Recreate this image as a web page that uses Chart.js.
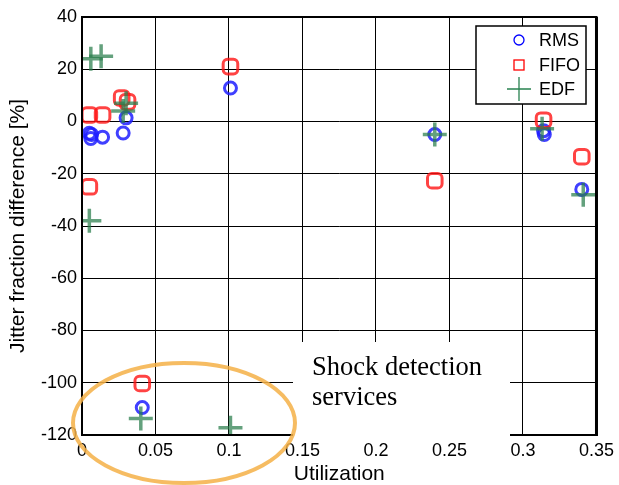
<!DOCTYPE html>
<html>
<head>
<meta charset="utf-8">
<script src="https://cdn.jsdelivr.net/npm/chart.js@4.4.1/dist/chart.umd.min.js"></script>
<style>
  html, body { margin: 0; padding: 0; background: #fff; }
  #wrap { width: 619px; height: 485px; position: relative; }
</style>
</head>
<body>
<div id="wrap"><canvas id="chartJitter"></canvas></div>
<script>
// values
const rmsX = [0.005, 0.006, 0.0065, 0.014, 0.028, 0.030, 0.101, 0.240, 0.314, 0.3145, 0.340, 0.041];
const rmsY = [-4.5, -6.5, -5, -6, -4.4, 1.4, 12.8, -5, -3.5, -5, -26, -109.5];

const fifoX = [0.005, 0.014, 0.027, 0.031, 0.101, 0.005, 0.240, 0.314, 0.340, 0.041];
const fifoY = [2.5, 2.5, 9, 7.5, 21, -25, -22.7, 0.5, -13.5, -100.3];

const edfX = [0.006, 0.013, 0.030, 0.028, 0.005, 0.240, 0.313, 0.341, 0.040, 0.101];
const edfY = [24, 25, 7, 4, -38, -5, -2.8, -28, -113.7, -117.2];

const xTickLabels = ['0', '0.05', '0.1', '0.15', '0.2', '0.25', '0.3', '0.35'];
const yTickLabels = ['-120', '-100', '-80', '-60', '-40', '-20', '0', '20', '40'];
const seriesNames = ['RMS', 'FIFO', 'EDF'];

const toPoints = (xs, ys) => xs.map((x, i) => ({ x: x, y: ys[i] }));

const blue = 'rgba(30,30,255,0.85)';
const red = 'rgba(255,20,20,0.8)';
const green = 'rgba(40,125,75,0.72)';

// frame, annotation box, ellipse and legend drawn on top of the plot
const overlay = {
  id: 'overlay',
  afterDraw(chart) {
    const ctx = chart.ctx;
    const a = chart.chartArea;
    ctx.save();
    ctx.strokeStyle = '#000';
    ctx.lineWidth = 2;
    ctx.strokeRect(a.left, a.top, a.right - a.left, a.bottom - a.top);
    ctx.lineWidth = 3;
    ctx.beginPath();
    ctx.moveTo(a.right, a.top);
    ctx.lineTo(a.right, a.bottom + 1);
    ctx.stroke();

    // white note box
    ctx.fillStyle = '#fff';
    ctx.fillRect(293, 342, 217, 98);
    ctx.fillStyle = '#000';
    ctx.font = '26.5px "Liberation Serif", "Times New Roman", serif';
    ctx.textBaseline = 'alphabetic';
    ctx.textAlign = 'left';
    ctx.fillText('Shock detection', 312, 375);
    ctx.fillText('services', 312, 405);

    // orange ellipse
    ctx.strokeStyle = 'rgba(244,176,70,0.85)';
    ctx.lineWidth = 4;
    ctx.beginPath();
    ctx.ellipse(184, 423, 111, 60, 0, 0, Math.PI * 2);
    ctx.stroke();

    // legend
    ctx.fillStyle = '#fff';
    ctx.fillRect(476, 26, 110, 78);
    ctx.strokeStyle = '#000';
    ctx.lineWidth = 1.5;
    ctx.strokeRect(476, 26, 110, 78);
    const rows = [40, 65, 89];
    ctx.font = '18px "Liberation Sans", Arial, sans-serif';
    ctx.textBaseline = 'middle';
    ctx.lineWidth = 1.3;
    // RMS
    ctx.strokeStyle = 'rgb(0,0,255)';
    ctx.beginPath();
    ctx.arc(519, rows[0], 5, 0, Math.PI * 2);
    ctx.stroke();
    // FIFO
    ctx.strokeStyle = 'rgb(255,0,0)';
    ctx.strokeRect(514, rows[1] - 5, 10, 10);
    // EDF
    ctx.strokeStyle = 'rgb(40,130,80)';
    ctx.beginPath();
    ctx.moveTo(507, rows[2]); ctx.lineTo(531, rows[2]);
    ctx.moveTo(519, rows[2] - 12); ctx.lineTo(519, rows[2] + 12);
    ctx.stroke();
    ctx.fillStyle = '#000';
    seriesNames.forEach((n, i) => ctx.fillText(n, 539, rows[i] + 1));
    ctx.restore();
  }
};

const chartJitter = new Chart(document.getElementById('chartJitter'), {
  type: 'scatter',
  data: {
    datasets: [
      {
        label: seriesNames[0],
        data: toPoints(rmsX, rmsY),
        pointStyle: 'circle',
        pointRadius: 6,
        borderWidth: 3,
        borderColor: blue,
        backgroundColor: 'rgba(0,0,0,0)',
        order: 3
      },
      {
        label: seriesNames[1],
        data: toPoints(fifoX, fifoY),
        pointStyle: 'rectRounded',
        pointRadius: 8.5,
        borderWidth: 3,
        borderColor: red,
        backgroundColor: 'rgba(0,0,0,0)',
        order: 2
      },
      {
        label: seriesNames[2],
        data: toPoints(edfX, edfY),
        pointStyle: 'cross',
        pointRadius: 12,
        borderWidth: 3.5,
        borderColor: green,
        backgroundColor: green,
        order: 1
      }
    ]
  },
  options: {
    responsive: true,
    maintainAspectRatio: false,
    animation: false,
    events: [],
    layout: { padding: { top: 17, right: 22, left: 0, bottom: 0 } },
    plugins: {
      legend: { display: false },
      tooltip: { enabled: false }
    },
    scales: {
      x: {
        type: 'linear',
        min: 0,
        max: 0.35,
        afterFit: (s) => { s.height = 50; },
        ticks: {
          stepSize: 0.05,
          color: '#000',
          padding: 5,
          maxRotation: 0,
          autoSkip: false,
          font: { family: '"Liberation Sans", Arial, sans-serif', size: 18 },
          callback: (v, i) => xTickLabels[i]
        },
        grid: { color: '#000', lineWidth: 1, drawTicks: false },
        border: { display: false },
        title: {
          display: true,
          text: 'Utilization',
          color: '#000',
          padding: { top: 0, bottom: 0 },
          font: { family: '"Liberation Sans", Arial, sans-serif', size: 21, lineHeight: 1 }
        }
      },
      y: {
        type: 'linear',
        min: -120,
        max: 40,
        afterFit: (s) => { s.width = 82; },
        ticks: {
          stepSize: 20,
          color: '#000',
          padding: 5,
          autoSkip: false,
          font: { family: '"Liberation Sans", Arial, sans-serif', size: 18 },
          callback: (v, i) => yTickLabels[i]
        },
        grid: { color: '#000', lineWidth: 1, drawTicks: false },
        border: { display: false },
        title: {
          display: true,
          text: 'Jitter fraction difference [%]',
          color: '#000',
          padding: { top: 8, bottom: 0 },
          font: { family: '"Liberation Sans", Arial, sans-serif', size: 21, lineHeight: 1 }
        }
      }
    }
  },
  plugins: [overlay]
});
</script>
</body>
</html>
